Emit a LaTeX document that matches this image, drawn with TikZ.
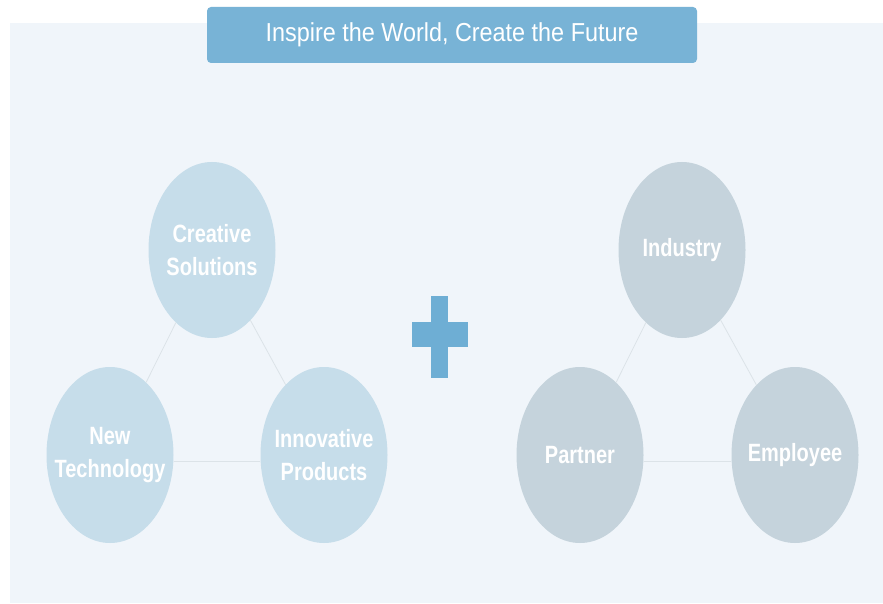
\documentclass[tikz,border=0pt]{standalone}
\usepackage{fontspec}
\setmainfont{Liberation Sans}
\newfontfamily\titrefont{Liberation Sans}[FakeStretch=0.9]
\newfontfamily\bullefont{Liberation Sans}[FakeStretch=0.8]
\usetikzlibrary{shapes.geometric}
\definecolor{fond}{HTML}{F0F5FA}
\definecolor{titre}{HTML}{78B3D6}
\definecolor{bleu}{HTML}{C6DDEA}
\definecolor{gris}{HTML}{C5D3DC}
\definecolor{trait}{HTML}{DCE3E8}
\definecolor{croix}{HTML}{6EAED4}

\begin{document}
\begin{tikzpicture}[x=1pt, y=-1pt]
\tikzset{bulle/.style={ellipse, minimum width=127pt, minimum height=176pt, inner sep=-25pt,
  text=white, align=center, font=\bullefont\bfseries\fontsize{25}{33}\selectfont},
  lien/.style={draw=trait, line width=0.8pt}}
\useasboundingbox (0, 0) rectangle (883, 604);
\fill[white] (0, 0) rectangle (883, 604);
\fill[fond] (10, 23) rectangle (883, 603);
\node[fill=titre, rounded corners=4pt, minimum width=490pt, minimum height=56pt, inner sep=0pt,
  text=white, font=\titrefont\fontsize{26}{30}\selectfont] (T) at (452, 35) {Inspire the World, Create the Future};
% left group
\node[bulle, fill=bleu] (L1) at (212, 250) {Creative\\Solutions};
\node[bulle, fill=bleu] (L2) at (110, 455) {New\\Technology};
\node[bulle, fill=bleu] (L3) at (324, 455) {Innovative\\Products};
\draw[lien] (L1) -- (L2);
\draw[lien] (L1) -- (L3);
\draw[lien] ([yshift=-6pt]L2.east) -- ([yshift=-6pt]L3.west);
% plus
\fill[croix] (431, 296) rectangle (448, 378);
\fill[croix] (412, 322) rectangle (468, 347);
% right group
\node[bulle, fill=gris] (R1) at (682, 250) {Industry};
\node[bulle, fill=gris] (R2) at (580, 455) {Partner};
\node[bulle, fill=gris] (R3) at (795, 455) {Employee};
\draw[lien] (R1) -- (R2);
\draw[lien] (R1) -- (R3);
\draw[lien] ([yshift=-6pt]R2.east) -- ([yshift=-6pt]R3.west);
\end{tikzpicture}
\end{document}
